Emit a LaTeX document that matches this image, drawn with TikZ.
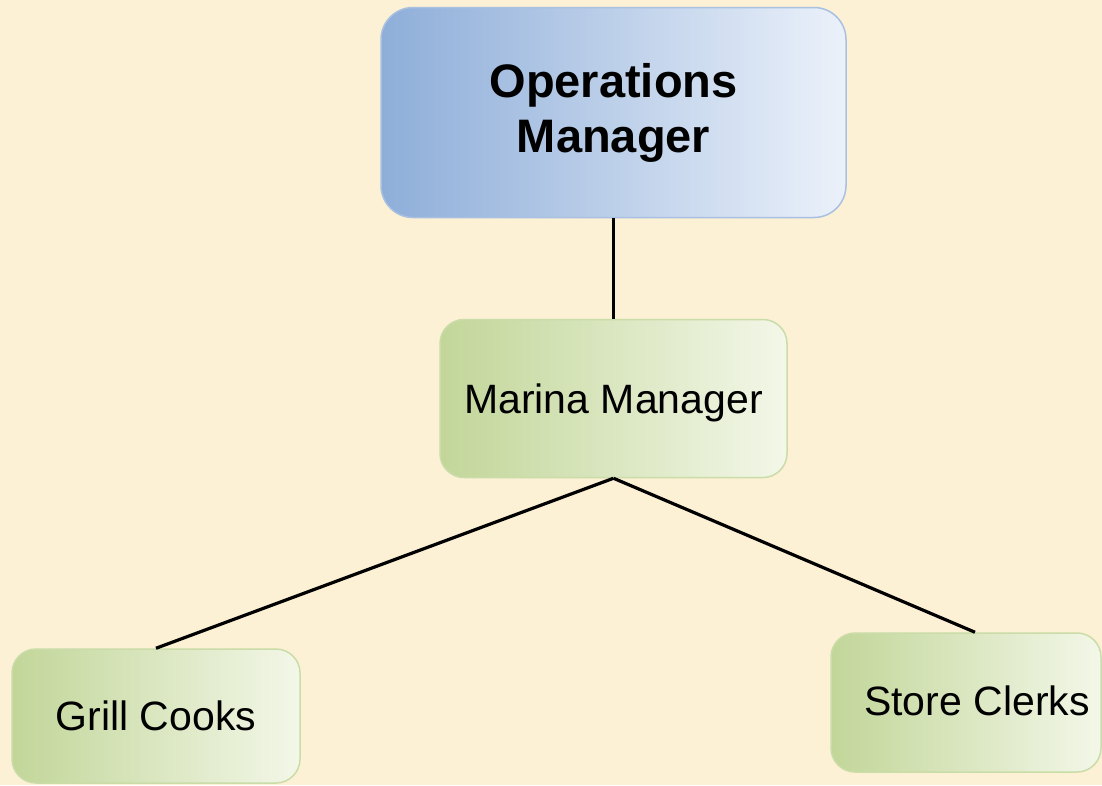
\documentclass[tikz,border=0pt]{standalone}
\usepackage{fontspec}
\setmainfont{Liberation Sans}
\definecolor{parch}{HTML}{FCF0D5}
\definecolor{blueL}{HTML}{8EAED9}
\definecolor{blueR}{HTML}{EBF1FA}
\definecolor{blueB}{HTML}{A9C0E2}
\definecolor{greenL}{HTML}{C2D699}
\definecolor{greenR}{HTML}{F3F7E8}
\definecolor{greenB}{HTML}{CADCA8}
\newcommand{\shiftdown}[2]{\vphantom{#2}\smash{\raisebox{#1}{#2}}}
\tikzset{
  bluebox/.style={draw=blueB, line width=1.5pt, rounded corners=32pt,
    left color=blueL, right color=blueR, align=center, inner sep=0pt,
    font=\fontsize{47}{55}\selectfont\bfseries},
  greenbox/.style={draw=greenB, line width=1.5pt, rounded corners=24pt,
    left color=greenL, right color=greenR, align=center, inner sep=0pt,
    font=\fontsize{41}{48}\selectfont},
  link/.style={draw=black, line width=3.2pt}
}
\begin{document}
\begin{tikzpicture}[x=1pt,y=-1pt]
\fill[parch] (0,0) rectangle (1102,785);
\useasboundingbox (0,0) rectangle (1102,785);
\node[bluebox, minimum width=465pt, minimum height=210pt] (om) at (613.5,112.5) {Operations\\Manager};
\node[greenbox, minimum width=347pt, minimum height=158pt] (mm) at (613.5,398.5) {\shiftdown{-4pt}{Marina Manager}};
\node[greenbox, minimum width=288pt, minimum height=134pt] (gc) at (156,716) {Grill Cooks};
\node[greenbox, minimum width=270pt, minimum height=139pt] (sc) at (966,702.5) {\hspace*{22pt}\shiftdown{2pt}{Store Clerks}};
\draw[link] (om.south) -- (mm.north);
\draw[link] (mm.south) -- (gc.north);
\draw[link] (mm.south) -- ([xshift=9pt]sc.north);
\end{tikzpicture}
\end{document}
